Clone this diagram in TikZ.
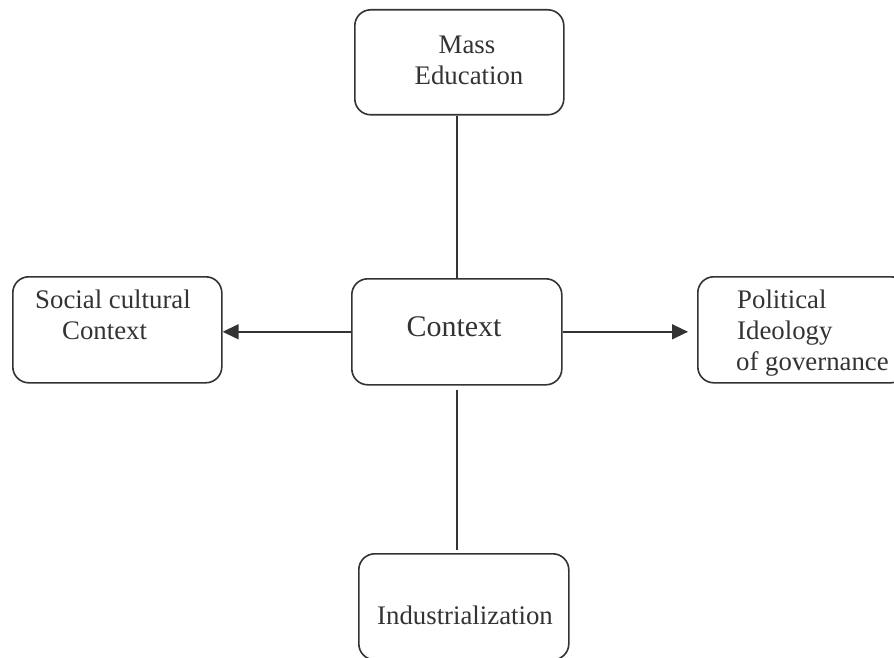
\documentclass[tikz,border=0pt]{standalone}
\usepackage{fontspec}
\setmainfont{Liberation Serif}
\usetikzlibrary{arrows.meta}
\definecolor{ink}{HTML}{333333}
\begin{document}
\begin{tikzpicture}[x=1pt,y=-1pt,
  box/.style={draw=ink, line width=1.6pt, rounded corners=16pt, minimum height=106pt, inner sep=0pt, anchor=north west},
  lbl/.style={text=ink, font=\fontsize{26.8}{32}\selectfont, inner sep=0pt},
  big/.style={text=ink, font=\fontsize{30}{36}\selectfont, inner sep=0pt},
  conn/.style={draw=ink, line width=1.6pt},
  arr/.style={conn, -{Triangle[length=16pt,width=15pt]}}]
\useasboundingbox (0,0) rectangle (894,658);
% boxes
\node[box, minimum width=209pt, minimum height=105pt] (mass) at (354,9) {};
\node[box, minimum width=210pt] (ctx) at (351,278) {};
\node[box, minimum width=209pt] (soc) at (12,276) {};
\node[box, minimum width=209pt] (pol) at (697,276) {};
\node[box, minimum width=210pt] (ind) at (358,553) {};
% texts
\node[lbl, anchor=base] (t1) at (467,54) {Mass};
\node[lbl, anchor=base] (t2) at (469,85) {Education};
\node[big, anchor=base] (t3) at (454,336) {Context};
\node[lbl, anchor=base west] (t4) at (35,308) {Social cultural};
\node[lbl, anchor=base west] (t5) at (62,339) {Context};
\node[lbl, anchor=base west] (t6) at (737,308) {Political};
\node[lbl, anchor=base west] (t7) at (737,339) {Ideology};
\node[lbl, anchor=base west] (t8) at (736,370) {of governance};
\node[lbl, anchor=base west] (t9) at (377,624) {Industrialization};
% connectors
\draw[conn] (ctx.north) -- (ctx.north |- mass.south);
\draw[conn, shorten <=4pt, shorten >=3pt] (ctx.south) -- (ctx.south |- ind.north);
\draw[arr] (ctx.west) -- (ctx.west -| soc.east);
\draw[arr, shorten >=9pt] (ctx.east) -- (ctx.east -| pol.west);
\end{tikzpicture}
\end{document}
